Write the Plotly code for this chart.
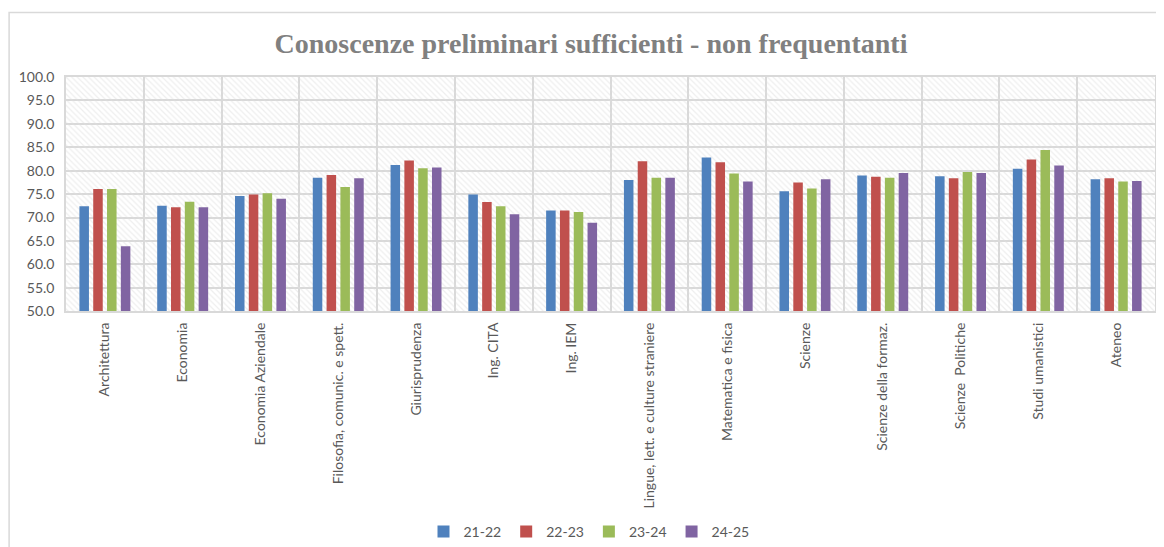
import plotly.graph_objects as go

categories = ["Architettura", "Economia", "Economia Aziendale", "Filosofia, comunic. e spett.",
              "Giurisprudenza", "Ing. CITA", "Ing. IEM", "Lingue, lett. e culture straniere",
              "Matematica e fisica", "Scienze", "Scienze della formaz.", "Scienze  Politiche",
              "Studi umanistici", "Ateneo"]
series_names = ["21-22", "22-23", "23-24", "24-25"]
v_21_22 = [72.4, 72.5, 74.6, 78.5, 81.2, 74.9, 71.5, 78.0, 82.8, 75.6, 79.0, 78.8, 80.4, 78.2]
v_22_23 = [76.1, 72.2, 74.9, 79.1, 82.2, 73.3, 71.5, 82.0, 81.8, 77.5, 78.7, 78.4, 82.4, 78.4]
v_23_24 = [76.1, 73.4, 75.2, 76.5, 80.5, 72.4, 71.2, 78.5, 79.4, 76.2, 78.5, 79.7, 84.4, 77.7]
v_24_25 = [63.9, 72.2, 74.0, 78.4, 80.7, 70.7, 68.9, 78.5, 77.7, 78.2, 79.5, 79.5, 81.1, 77.8]
colors = ["#4F81BD", "#C0504D", "#9BBB59", "#8064A2"]
y_min, y_max = 50, 100

# the page body has an 8px margin; the figure is sized to fill the rest of the window
OFF = 8
W, H = 1164 - OFF, 547 - OFF
PL, PR, PT, PB = 66, 1157, 77, 313.5   # plot area in window pixels

fig = go.Figure()

# hatched plot-area background (main subplot, below the bars)
fig.add_trace(go.Bar(
    x=categories, y=[y_max - y_min] * len(categories), base=y_min, width=1,
    marker=dict(color="rgba(0,0,0,0)", line=dict(width=0),
                pattern=dict(shape="\\", size=4, solidity=0.3,
                             fgcolor="#dedede", bgcolor="rgba(255,255,255,0)")),
    hoverinfo="skip", showlegend=False, xaxis="x", yaxis="y"))

for name, vals, col in zip(series_names, [v_21_22, v_22_23, v_23_24, v_24_25], colors):
    fig.add_trace(go.Bar(x=categories, y=vals, name=name, marker_color=col,
                         marker_line_width=0, xaxis="x2", yaxis="y2"))

tick_font = dict(family="Lato", size=14, color="#595959")

pw, ph = PR - PL, PB - PT
fig.update_layout(
    width=W, height=H,
    margin=dict(l=PL - OFF, r=1164 - PR, t=PT - OFF, b=547 - PB),
    paper_bgcolor="white", plot_bgcolor="white",
    barmode="group", bargap=0.29, bargroupgap=0.31,
    title=dict(text="<b>Conoscenze preliminari sufficienti - non frequentanti</b>",
               font=dict(family="Liberation Serif", size=28, color="#808080"),
               x=(591 - OFF) / W, xanchor="center", xref="container",
               y=1 - (43 - OFF) / H, yanchor="middle", yref="container"),
    xaxis=dict(type="category", categoryorder="array", categoryarray=categories,
               range=[-0.5, len(categories) - 0.5],
               tickson="boundaries", showgrid=True, gridcolor="#d9d9d9", gridwidth=1.5,
               ticks="", tickangle=-90, tickfont=tick_font, ticklabelstandoff=4,
               showline=True, linecolor="#d9d9d9", linewidth=1.5, mirror=True),
    yaxis=dict(range=[y_min, y_max], dtick=5, tickformat=".1f",
               showgrid=True, gridcolor="#d9d9d9", gridwidth=1.5,
               tickfont=tick_font, ticks="", ticklabelstandoff=7,
               showline=True, linecolor="#d9d9d9", linewidth=1.5, mirror=True,
               zeroline=False),
    xaxis2=dict(type="category", categoryorder="array", categoryarray=categories,
                range=[-0.5, len(categories) - 0.5], overlaying="x", visible=False),
    yaxis2=dict(range=[y_min, y_max], overlaying="y", visible=False),
    legend=dict(orientation="h", x=(589 - OFF) / W, xanchor="center", xref="container",
                y=1 - (532 - OFF) / H, yanchor="middle", yref="container",
                font=dict(family="Lato", size=14, color="#595959"),
                itemwidth=30, tracegroupgap=0),
    shapes=[dict(type="rect", xref="paper", yref="paper",
                 x0=(OFF + 1 - PL) / pw, x1=(1180 - PL) / pw,
                 y0=(PB - 560) / ph, y1=(PB - 12) / ph,
                 line=dict(color="#d9d9d9", width=1.5), fillcolor="rgba(0,0,0,0)",
                 layer="below")],
)

fig.write_html("out.html")
